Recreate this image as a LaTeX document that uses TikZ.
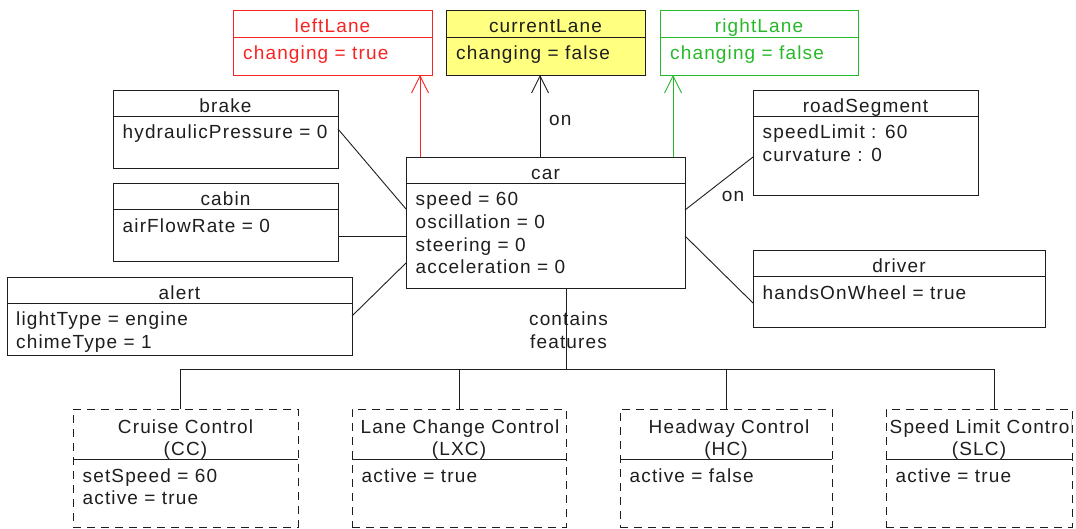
\documentclass[tikz,border=0pt]{standalone}
\usepackage{fontspec}
\setmainfont{Liberation Sans}[LetterSpace=6]
\usetikzlibrary{arrows.meta}

\definecolor{boxline}{RGB}{30,30,30}
\definecolor{lanered}{RGB}{250,35,35}
\definecolor{lanegreen}{RGB}{40,185,40}
\definecolor{laneyellow}{RGB}{255,255,128}

% object box: name, x1, y1, x2, y2, divider y, box style
\newcommand{\umlobj}[7]{%
  \pgfmathsetmacro{\objW}{#4-#2}\pgfmathsetmacro{\objH}{#5-#3}%
  \pgfmathsetmacro{\objX}{(#2+#4)/2}\pgfmathsetmacro{\objY}{(#3+#5)/2}%
  \node[#7, minimum width=\objW pt, minimum height=\objH pt] (#1) at (\objX,\objY) {};
  \draw[#7, solid, fill=none] (#2,#6) -- (#4,#6);
}

\begin{document}
\begin{tikzpicture}[x=1pt, y=-1pt,
  every node/.style={font=\fontsize{19}{22.7}\selectfont, text=boxline},
  objbox/.style={rectangle, draw=boxline, line width=0.95pt, inner sep=0pt, outer sep=0pt},
  featbox/.style={objbox, dash pattern=on 8pt off 6pt},
  redbox/.style={objbox, draw=lanered},
  greenbox/.style={objbox, draw=lanegreen},
  yellowbox/.style={objbox, fill=laneyellow},
  ttl/.style={anchor=base, inner sep=0pt},
  attr/.style={anchor=base west, inner sep=0pt},
  link/.style={draw=boxline, line width=0.9pt},
  nav/.style={line width=0.9pt, -{Straight Barb[length=17pt, width=17pt, line width=0.9pt]}}
]
\useasboundingbox (0,0) rectangle (1076,529);
\fill[white] (0,0) rectangle (1076,529);

% lanes
\umlobj{leftLane}{233}{10}{432}{75}{37}{redbox}
\node[ttl, text=lanered] (leftLane-t) at (332.5,33) {leftLane};
\node[attr, text=lanered] (leftLane-a1) at (243,59.5) {changing = true};

\umlobj{currentLane}{446}{10}{645}{75}{37}{yellowbox}
\node[ttl] (currentLane-t) at (545.5,33) {currentLane};
\node[attr] (currentLane-a1) at (456,59.5) {changing = false};

\umlobj{rightLane}{660}{10}{858}{75}{37}{greenbox}
\node[ttl, text=lanegreen] (rightLane-t) at (759,33) {rightLane};
\node[attr, text=lanegreen] (rightLane-a1) at (670,59.5) {changing = false};

% car subsystems
\umlobj{brake}{113}{90}{338}{168}{116}{objbox}
\node[ttl] (brake-t) at (225.5,112.5) {brake};
\node[attr] (brake-a1) at (122.5,139) {hydraulicPressure = 0};

\umlobj{cabin}{113}{183}{338}{261}{209.5}{objbox}
\node[ttl] (cabin-t) at (225.5,206) {cabin};
\node[attr] (cabin-a1) at (122.5,232.5) {airFlowRate = 0};

\umlobj{alert}{7}{277}{352}{355}{303}{objbox}
\node[ttl] (alert-t) at (179.5,299) {alert};
\node[attr] (alert-a1) at (16,326) {lightType = engine};
\node[attr] (alert-a2) at (16,348.5) {chimeType = 1};

\umlobj{car}{406}{157}{685}{288}{183}{objbox}
\node[ttl] (car-t) at (545.5,179.5) {car};
\node[attr] (car-a1) at (415.5,206) {speed = 60};
\node[attr] (car-a2) at (415.5,228.7) {oscillation = 0};
\node[attr] (car-a3) at (415.5,251.3) {steering = 0};
\node[attr] (car-a4) at (415.5,274) {acceleration = 0};

\umlobj{roadSegment}{753}{90}{978}{195}{116}{objbox}
\node[ttl] (roadSegment-t) at (865.5,112.5) {roadSegment};
\node[attr] (roadSegment-a1) at (762.5,139) {speedLimit : 60};
\node[attr] (roadSegment-a2) at (762.5,161.7) {curvature : 0};

\umlobj{driver}{753}{250}{1045}{327}{276.5}{objbox}
\node[ttl] (driver-t) at (899,273) {driver};
\node[attr] (driver-a1) at (762.5,299.5) {handsOnWheel = true};

% features
\umlobj{CC}{73}{409}{298}{527}{459}{featbox}
\node[ttl] (CC-t1) at (185.5,433) {Cruise Control};
\node[ttl] (CC-t2) at (185.5,455.5) {(CC)};
\node[attr] (CC-a1) at (82.5,482) {setSpeed = 60};
\node[attr] (CC-a2) at (82.5,504.5) {active = true};

\umlobj{LXC}{352}{409}{566}{527}{459}{featbox}
\node[ttl] (LXC-t1) at (460,433) {Lane Change Control};
\node[ttl] (LXC-t2) at (459,455.5) {(LXC)};
\node[attr] (LXC-a1) at (361.5,482) {active = true};

\umlobj{HC}{620}{409}{832}{527}{459}{featbox}
\node[ttl] (HC-t1) at (729,433) {Headway Control};
\node[ttl] (HC-t2) at (726,455.5) {(HC)};
\node[attr] (HC-a1) at (629.5,482) {active = false};

\umlobj{SLC}{886}{409}{1072}{527}{459}{featbox}
\begin{scope}
  \clip (886,409) rectangle (1071,459);
  \node[attr] (SLC-t1) at (889.5,433) {Speed Limit Control};
\end{scope}
\node[ttl] (SLC-t2) at (979,455.5) {(SLC)};
\node[attr] (SLC-a1) at (895.5,482) {active = true};

% lane navigation
\draw[nav, draw=lanered] ([xshift=14pt]car.north west) -- ([xshift=14pt]car.north west |- leftLane.south);
\draw[nav, draw=boxline] ([xshift=-5.5pt]car.north) -- ([xshift=-5.5pt]car.north |- currentLane.south);
\draw[nav, draw=lanegreen] ([xshift=-12pt]car.north east) -- ([xshift=-12pt]car.north east |- rightLane.south);
\node[anchor=west, inner sep=0pt] (on-lane) at (549,120) {on};

% associations around the car
\draw[link] (brake.east) -- ([yshift=13.5pt]car.west);
\draw[link] ([yshift=-14pt]cabin.east) -- ([yshift=-14pt]cabin.east -| car.west);
\draw[link] (alert.east) -- ([yshift=-40.5pt]car.west);
\draw[link] ([yshift=12.5pt]car.east) -- ([yshift=-14.5pt]roadSegment.west);
\node[inner sep=0pt] (on-road) at (733,196) {on};
\draw[link] ([yshift=-13.5pt]car.east) -- ([yshift=-14.5pt]driver.west);

% composition of features
\coordinate (bus) at (566,369);
\draw[link] ([xshift=20.5pt]car.south) -- (bus);
\node[ttl] (contains) at (568.5,326) {contains};
\node[ttl] (features) at (568.5,348.7) {features};
\draw[link] ([xshift=-5.5pt]CC.north) |- (bus);
\draw[link] ([xshift=15pt]SLC.north) |- (bus);
\draw[link] (LXC.north) -- (LXC.north |- bus);
\draw[link] (HC.north) -- (HC.north |- bus);
\end{tikzpicture}
\end{document}
